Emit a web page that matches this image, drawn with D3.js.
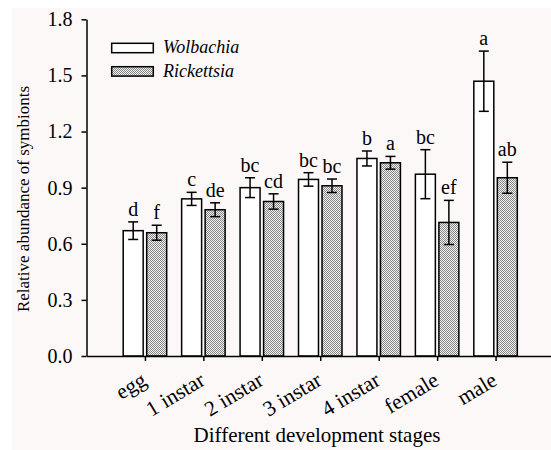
<!DOCTYPE html>
<html><head><meta charset="utf-8">
<script src="https://cdn.jsdelivr.net/npm/d3@7"></script>
<style>body{margin:0;background:#fff}svg{display:block}</style>
</head><body>
<script>
const categories = ["egg","1 instar","2 instar","3 instar","4 instar","female","male"];
const seriesNames = ["Wolbachia","Rickettsia"];
const wolbachia = [0.67,0.84,0.90,0.944,1.056,0.972,1.469];
const wolbachiaErr = [0.047,0.035,0.053,0.036,0.040,0.131,0.161];
const rickettsia = [0.659,0.782,0.826,0.91,1.033,0.714,0.953];
const rickettsiaErr = [0.040,0.037,0.041,0.036,0.034,0.118,0.083];
const wolbachiaLetters = ["d","c","bc","bc","b","bc","a"];
const rickettsiaLetters = ["f","de","cd","bc","a","ef","ab"];
const yTicks = [0,0.3,0.6,0.9,1.2,1.5,1.8];

const W = 551, H = 450;
const svg = d3.select("body").append("svg").attr("width", W).attr("height", H);
const FONT = "Liberation Serif, Times New Roman, serif";

const defs = svg.append("defs");
const pat = defs.append("pattern").attr("id","dots").attr("patternUnits","userSpaceOnUse")
  .attr("width",2).attr("height",2);
pat.append("rect").attr("width",2).attr("height",2).attr("fill","#f2f2f2");
pat.append("rect").attr("x",0).attr("y",0).attr("width",1).attr("height",1).attr("fill","#858585");
pat.append("rect").attr("x",1).attr("y",1).attr("width",1).attr("height",1).attr("fill","#858585");

svg.append("rect").attr("x",12).attr("y",8).attr("width",W-12).attr("height",H-8).attr("fill","#fcf8f7");

const x = d3.scaleLinear().domain([0, categories.length + 1]).range([86.5, 554]);
const y = d3.scaleLinear().domain([0, 1.8]).range([356, 19.3]);
const step = x(1) - x(0);
const x1 = d3.scaleBand().domain(seriesNames).range([-0.372*step, 0.372*step]).paddingInner(0.15);

const data = [];
categories.forEach((c,i) => {
  data.push({cat:c, i, s:"Wolbachia", v:wolbachia[i], e:wolbachiaErr[i], l:wolbachiaLetters[i]});
  data.push({cat:c, i, s:"Rickettsia", v:rickettsia[i], e:rickettsiaErr[i], l:rickettsiaLetters[i]});
});
const fillOf = s => s === "Wolbachia" ? "#ffffff" : "url(#dots)";

const g = svg.append("g");
g.selectAll("rect.bar").data(data).join("rect").attr("class","bar")
  .attr("x", d => x(d.i+1) + x1(d.s))
  .attr("width", x1.bandwidth())
  .attr("y", d => y(d.v))
  .attr("height", d => y(0) - y(d.v))
  .attr("fill", d => fillOf(d.s))
  .attr("stroke","#000").attr("stroke-width",1.5);

const eb = g.selectAll("g.err").data(data).join("g").attr("class","err")
  .attr("stroke","#000").attr("stroke-width",1.5);
const cx = d => x(d.i+1) + x1(d.s) + x1.bandwidth()/2;
eb.append("line").attr("x1",cx).attr("x2",cx).attr("y1",d=>y(d.v+d.e)).attr("y2",d=>y(d.v-d.e));
eb.append("line").attr("x1",d=>cx(d)-5).attr("x2",d=>cx(d)+5).attr("y1",d=>y(d.v+d.e)).attr("y2",d=>y(d.v+d.e));
eb.append("line").attr("x1",d=>cx(d)-5).attr("x2",d=>cx(d)+5).attr("y1",d=>y(d.v-d.e)).attr("y2",d=>y(d.v-d.e));

g.selectAll("text.lab").data(data).join("text").attr("class","lab")
  .attr("x", cx).attr("y", d => y(d.v+d.e) - 6)
  .attr("text-anchor","middle").attr("font-family",FONT).attr("font-size",20)
  .attr("fill","#000").text(d => d.l);

// axes
const yAxis = d3.axisLeft(y).tickValues(yTicks).tickFormat(d3.format(".1f")).tickSize(5).tickSizeOuter(0).tickPadding(9);
const ya = svg.append("g").attr("transform",`translate(${x(0)},0)`).call(yAxis);
ya.attr("font-family",FONT);
ya.selectAll("text").attr("font-family",FONT).attr("font-size",20).attr("fill","#000");
ya.selectAll("line,path").attr("stroke","#000").attr("stroke-width",1.5);

const xAxis = d3.axisBottom(x).tickValues(d3.range(1, categories.length+1)).tickFormat("").tickSize(5).tickSizeOuter(0);
const xa = svg.append("g").attr("transform",`translate(0,${y(0)})`).call(xAxis);
xa.selectAll("line,path").attr("stroke","#000").attr("stroke-width",1.5);

svg.append("g").selectAll("text").data(categories).join("text")
  .attr("transform",(d,i)=>`translate(${x(i+1)+3},384) rotate(-31)`)
  .attr("text-anchor","end").attr("font-family",FONT).attr("font-size",21.5).attr("fill","#000")
  .text(d=>d);

svg.append("text").attr("x",317).attr("y",442).attr("text-anchor","middle")
  .attr("font-family",FONT).attr("font-size",21).attr("fill","#000").text("Different development stages");
svg.append("text").attr("transform","translate(29,199) rotate(-90)").attr("text-anchor","middle")
  .attr("font-family",FONT).attr("font-size",17).attr("fill","#000").text("Relative abundance of symbionts");

// legend
const leg = svg.append("g");
seriesNames.forEach((s,k) => {
  const ly = 43.3 + k*23.4;
  leg.append("rect").attr("x",111.7).attr("y",ly).attr("width",41.6).attr("height",9.4)
    .attr("fill",fillOf(s)).attr("stroke","#000").attr("stroke-width",1.5);
  leg.append("text").attr("x",163).attr("y",ly+10).attr("font-family",FONT).attr("font-style","italic")
    .attr("font-size",18).attr("fill","#000").text(s);
});
</script>
</body></html>
